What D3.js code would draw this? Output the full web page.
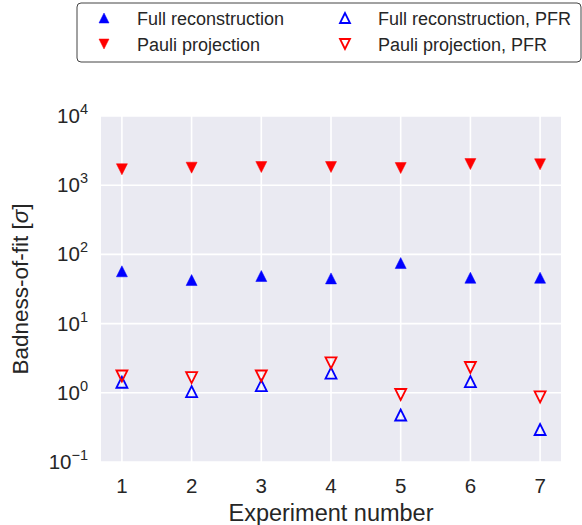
<!DOCTYPE html>
<html>
<head>
<meta charset="utf-8">
<script src="https://cdn.jsdelivr.net/npm/d3@7"></script>
<style>
  body { margin: 0; background: #fff; }
  svg text { font-family: "Liberation Sans", Arial, sans-serif; fill: #262626; }
</style>
</head>
<body>
<svg id="chart" width="582" height="525"></svg>
<script>
// Datos
const experiments = [1, 2, 3, 4, 5, 6, 7];
const fullRecon = [57, 42.6, 48.7, 45, 75, 46, 46];
const pauliProj = [1700, 1790, 1830, 1830, 1770, 2020, 2005];
const fullReconPFR = [1.42, 1.04, 1.27, 1.93, 0.478, 1.45, 0.295];
const pauliProjPFR = [1.75, 1.66, 1.75, 2.70, 0.945, 2.32, 0.873];
const yTickExps = [-1, 0, 1, 2, 3, 4];

const series = [
  { name: "Full reconstruction", values: fullRecon, color: "#0000ff", up: true, filled: true },
  { name: "Pauli projection", values: pauliProj, color: "#ff0000", up: false, filled: true },
  { name: "Full reconstruction, PFR", values: fullReconPFR, color: "#0000ff", up: true, filled: false },
  { name: "Pauli projection, PFR", values: pauliProjPFR, color: "#ff0000", up: false, filled: false }
];

// Area del grafico
const plot = { left: 101, right: 561, top: 116, bottom: 462 };

const svg = d3.select("#chart");

const x = d3.scaleLinear().domain([0.7, 7.3]).range([plot.left, plot.right]);
const y = d3.scaleLog().domain([0.1, 1e4]).range([plot.bottom, plot.top]);

// Triangulo estilo matplotlib (centro de la caja)
function triPath(up, s) {
  const h = s / 2;
  return up
    ? `M0,${-h}L${-h},${h}L${h},${h}Z`
    : `M0,${h}L${-h},${-h}L${h},${-h}Z`;
}

// Fondo
svg.append("rect")
  .attr("x", plot.left).attr("y", plot.top)
  .attr("width", plot.right - plot.left)
  .attr("height", plot.bottom - plot.top)
  .attr("fill", "#eaeaf2");

// Rejilla
svg.append("g").selectAll("line").data(yTickExps).join("line")
  .attr("x1", plot.left).attr("x2", plot.right)
  .attr("y1", d => y(Math.pow(10, d))).attr("y2", d => y(Math.pow(10, d)))
  .attr("stroke", "#fff").attr("stroke-width", 1.6);

svg.append("g").selectAll("line").data(experiments).join("line")
  .attr("x1", d => x(d)).attr("x2", d => x(d))
  .attr("y1", plot.top).attr("y2", plot.bottom)
  .attr("stroke", "#fff").attr("stroke-width", 1.6);

// Etiquetas eje Y
const yLab = svg.append("g").selectAll("text").data(yTickExps).join("text")
  .attr("x", 88)
  .attr("y", d => y(Math.pow(10, d)) + 7)
  .attr("text-anchor", "end")
  .style("font-size", "20.5px");
yLab.append("tspan").text("10");
yLab.append("tspan")
  .attr("dy", -9)
  .style("font-size", "14.5px")
  .text(d => d < 0 ? "\u2212" + Math.abs(d) : d);

// Etiquetas eje X
svg.append("g").selectAll("text").data(experiments).join("text")
  .attr("x", d => x(d))
  .attr("y", 493)
  .attr("text-anchor", "middle")
  .style("font-size", "20.5px")
  .text(d => d);

svg.append("text")
  .attr("x", (plot.left + plot.right) / 2)
  .attr("y", 521)
  .attr("text-anchor", "middle")
  .style("font-size", "23.5px")
  .text("Experiment number");

const yTitle = svg.append("text")
  .attr("transform", `translate(28,${(plot.top + plot.bottom) / 2}) rotate(-90)`)
  .attr("text-anchor", "middle")
  .style("font-size", "22.5px");
yTitle.append("tspan").text("Badness-of-fit [");
yTitle.append("tspan").style("font-style", "italic").text("\u03c3");
yTitle.append("tspan").text("]");

// Marcadores
series.forEach(s => {
  svg.append("g").selectAll("path").data(experiments).join("path")
    .attr("transform", (d, i) => `translate(${x(d)},${y(s.values[i])})`)
    .attr("d", triPath(s.up, 11))
    .attr("fill", s.filled ? s.color : "none")
    .attr("stroke", s.color)
    .attr("stroke-width", s.filled ? 0.5 : 1.8);
});

// Leyenda
const legend = svg.append("g");
legend.append("rect")
  .attr("x", 77).attr("y", 3)
  .attr("width", 504).attr("height", 59)
  .attr("rx", 4)
  .attr("fill", "#fff")
  .attr("stroke", "#444")
  .attr("stroke-width", 1);

const legPos = [
  { mx: 104, tx: 137, cy: 18 },
  { mx: 104, tx: 137, cy: 44 },
  { mx: 345, tx: 378, cy: 18 },
  { mx: 345, tx: 378, cy: 44 }
];
series.forEach((s, i) => {
  const p = legPos[i];
  legend.append("path")
    .attr("transform", `translate(${p.mx},${p.cy})`)
    .attr("d", triPath(s.up, 10))
    .attr("fill", s.filled ? s.color : "none")
    .attr("stroke", s.color)
    .attr("stroke-width", s.filled ? 0.5 : 1.8);
  legend.append("text")
    .attr("x", p.tx).attr("y", p.cy + 6.5)
    .style("font-size", "18px")
    .text(s.name);
});
</script>
</body>
</html>
